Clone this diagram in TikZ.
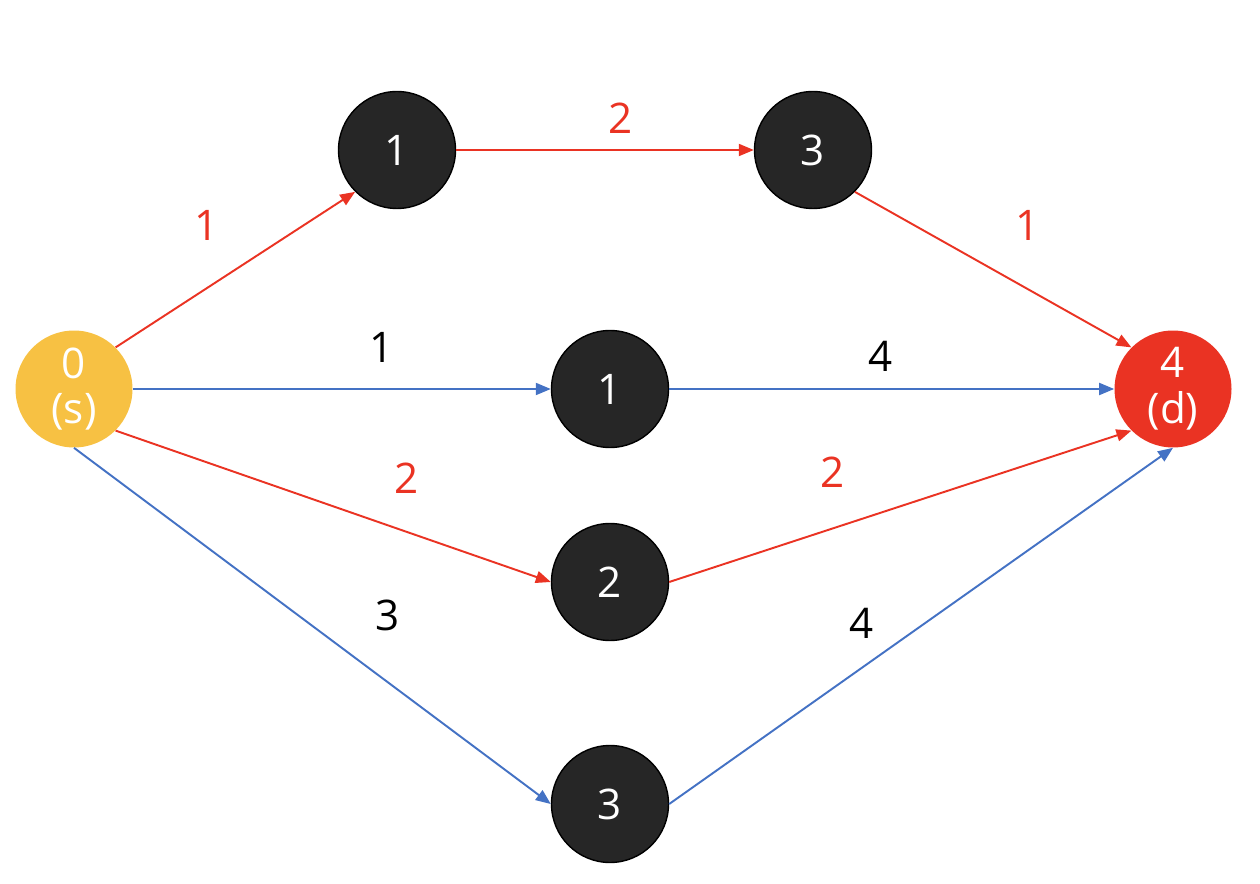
\documentclass[tikz,border=0pt]{standalone}
\usepackage{fontspec}
\setmainfont{Open Sans}
\usepackage{xcolor}
\usetikzlibrary{arrows.meta, positioning}

\definecolor{srcorange}{HTML}{F7C143}
\definecolor{dstred}{HTML}{EA3323}
\definecolor{pathred}{HTML}{EA3323}
\definecolor{pathblue}{HTML}{4472C4}
\definecolor{nodegray}{HTML}{262626}

\begin{document}
\begin{tikzpicture}[x=0.02cm, y=-0.02cm,
  vertex/.style={circle, minimum size=2.34cm, inner sep=0pt, text=white,
    font=\fontsize{24}{26}\selectfont, align=center},
  inner/.style={vertex, fill=nodegray, draw=black, line width=0.8pt},
  redge/.style={draw=pathred, line width=1.1pt, -{Triangle[length=0.3cm, width=0.24cm]}},
  bedge/.style={draw=pathblue, line width=1.1pt, -{Triangle[length=0.3cm, width=0.24cm]}},
  wlabel/.style={font=\fontsize{24}{26}\selectfont}]
\useasboundingbox (0,0) rectangle (1260,884);

% Noduri
\node[vertex, fill=srcorange] (s) at (74,389) {0\\(s)};
\node[inner] (a1) at (397,150) {1};
\node[inner] (a3) at (813,150) {3};
\node[inner] (b1) at (610,389) {1};
\node[inner] (b2) at (610,582) {2};
\node[inner] (b3) at (610,804) {3};
\node[vertex, fill=dstred] (d) at (1173,389) {4\\(d)};

% Drumul rosu de sus
\draw[redge] (s.north east) -- (a1.south west);
\draw[redge] (a1.east) -- (a3.west);
\draw[redge] (a3.south east) -- (d.north west);

% Drumuri din mijloc
\draw[bedge] (s.east) -- (b1.west);
\draw[bedge] (b1.east) -- (d.west);
\draw[redge] (s.south east) -- (b2.west);
\draw[redge] (b2.east) -- (d.south west);

% Drumul de jos
\draw[bedge] (s.south) -- (b3.west);
\draw[bedge] (b3.east) -- (d.south);

% Ponderi
\node[wlabel, text=pathred] (w1) at (207,225) {1};
\node[wlabel, text=pathred] (w2) at (621,118) {2};
\node[wlabel, text=pathred] (w3) at (1028,225) {1};
\node[wlabel] (w4) at (382,347) {1};
\node[wlabel] (w5) at (881,356) {4};
\node[wlabel, text=pathred] (w6) at (407,478) {2};
\node[wlabel, text=pathred] (w7) at (833,472) {2};
\node[wlabel] (w8) at (388,615) {3};
\node[wlabel] (w9) at (862,623) {4};

\end{tikzpicture}
\end{document}
